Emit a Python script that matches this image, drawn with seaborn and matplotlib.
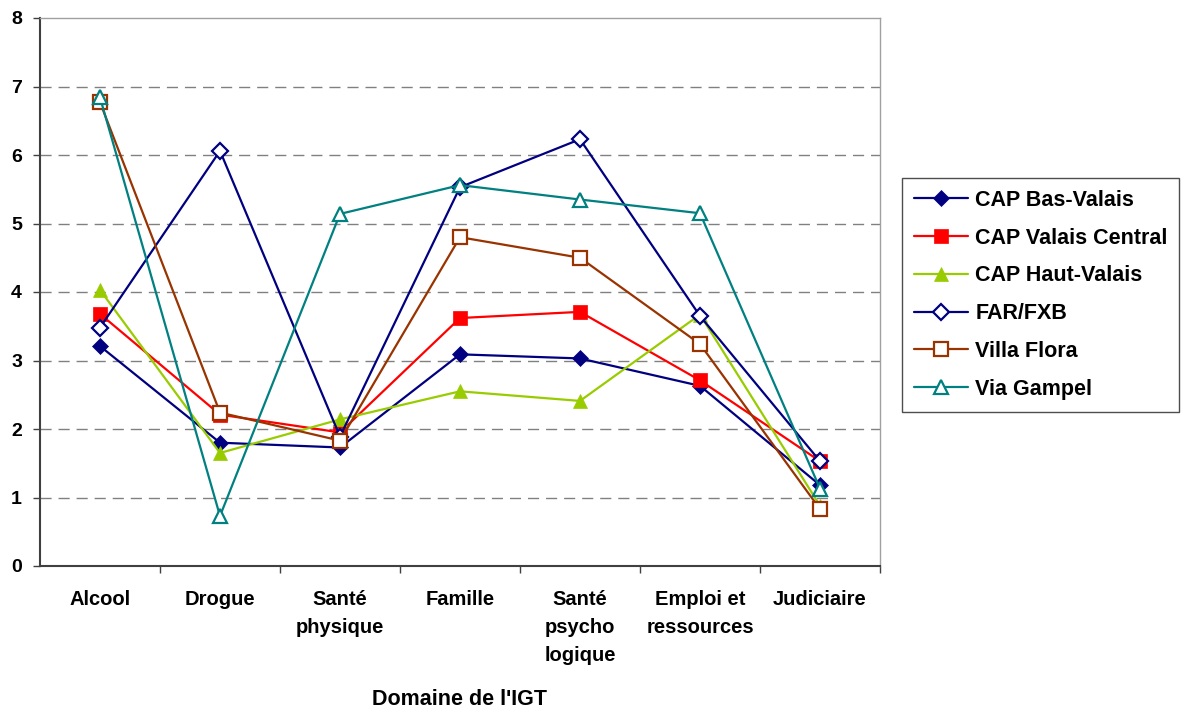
#!/usr/bin/env python
# encoding: utf-8

import pandas as pd
import numpy as np
import matplotlib
matplotlib.use("Agg")
import matplotlib.pyplot as plt
from matplotlib.ticker import FixedLocator
import seaborn as sns


# Domaines de l'IGT (x categories)
domaines = ["Alcool", "Drogue", "Santé\nphysique", "Famille",
            "Santé\npsycho\nlogique", "Emploi et\nressources", "Judiciaire"]

# Values, one list per centre
cap_bas_valais = [3.21, 1.80, 1.73, 3.09, 3.03, 2.63, 1.18]
cap_valais_central = [3.68, 2.21, 1.95, 3.62, 3.71, 2.71, 1.53]
cap_haut_valais = [4.03, 1.65, 2.14, 2.55, 2.41, 3.67, 0.88]
far_fxb = [3.48, 6.06, 1.89, 5.53, 6.23, 3.65, 1.53]
villa_flora = [6.77, 2.24, 1.83, 4.80, 4.50, 3.24, 0.83]
via_gampel = [6.84, 0.73, 5.14, 5.56, 5.35, 5.15, 1.13]

series_names = ["CAP Bas-Valais", "CAP Valais Central", "CAP Haut-Valais",
                "FAR/FXB", "Villa Flora", "Via Gampel"]
series_values = [cap_bas_valais, cap_valais_central, cap_haut_valais,
                 far_fxb, villa_flora, via_gampel]

# (colour, marker, filled?, marker size)
styles = {
    "CAP Bas-Valais": ("#000080", "D", True, 8),
    "CAP Valais Central": ("#FF0000", "s", True, 9.5),
    "CAP Haut-Valais": ("#99CC00", "^", True, 10.5),
    "FAR/FXB": ("#000080", "D", False, 8),
    "Villa Flora": ("#993300", "s", False, 9.5),
    "Via Gampel": ("#008080", "^", False, 10.5),
}


def build_df():
    rows = []
    for name, vals in zip(series_names, series_values):
        for i, v in enumerate(vals):
            rows.append({"centre": name, "pos": i, "score": v})
    return pd.DataFrame(rows)


def main():
    sns.set_style("white")
    plt.rcParams["font.family"] = ["Liberation Sans", "DejaVu Sans"]
    plt.rcParams["font.weight"] = "bold"
    plt.rcParams["text.color"] = "black"
    plt.rcParams["xtick.color"] = "black"
    plt.rcParams["ytick.color"] = "black"
    plt.rcParams["axes.labelcolor"] = "black"

    df = build_df()

    fig = plt.figure(figsize=(11.81, 7.10), dpi=100)
    ax = fig.add_axes([40 / 1181, 1 - 566 / 710, 840 / 1181, 548 / 710])

    for name in series_names:
        col, mk, filled, ms = styles[name]
        sub = df[df["centre"] == name]
        sns.lineplot(data=sub, x="pos", y="score", ax=ax, color=col,
                     marker=mk, markersize=ms, linewidth=1.6,
                     markerfacecolor=col if filled else "white",
                     markeredgecolor=col, markeredgewidth=1.6 if not filled else 0.5,
                     label=name, zorder=3)

    ax.set_xlim(-0.5, len(domaines) - 0.5)
    ax.set_ylim(0, 8)
    ax.set_yticks(range(0, 9))
    ax.set_xticks(range(len(domaines)))
    ax.set_xticklabels(domaines, fontsize=14.5, fontweight="bold", linespacing=1.6,
                       va="top")
    ax.xaxis.set_minor_locator(FixedLocator(np.arange(0.5, len(domaines), 1.0)))
    ax.tick_params(axis="x", which="major", length=0, pad=17)
    ax.tick_params(axis="x", which="minor", length=5, width=1, color="#404040",
                   direction="out", bottom=True)
    ax.tick_params(axis="y", which="major", length=5, width=1, color="#404040",
                   direction="out", left=True, pad=8, labelsize=14)
    for lab in ax.get_yticklabels():
        lab.set_fontweight("bold")

    # dashed horizontal gridlines at 1..7
    for yv in range(1, 8):
        ax.axhline(yv, color="#808080", linewidth=1, linestyle=(0, (8, 5)), zorder=1)

    for side in ["left", "bottom"]:
        ax.spines[side].set_color("#404040")
        ax.spines[side].set_linewidth(1.5)
    for side in ["top", "right"]:
        ax.spines[side].set_color("#A0A0A0")
        ax.spines[side].set_linewidth(1)

    ax.set_xlabel("Domaine de l'IGT", fontsize=15.5, fontweight="bold")
    ax.xaxis.set_label_coords(0.5, -0.225)
    ax.set_ylabel("")

    leg = ax.legend(loc="upper left", bbox_to_anchor=(902 / 1181, 1 - 178 / 710),
                    bbox_transform=fig.transFigure, frameon=True, fancybox=False,
                    edgecolor="#202020", fontsize=15.5, handlelength=2.5,
                    labelspacing=0.78, borderpad=0.55, handletextpad=0.35,
                    borderaxespad=0)
    leg.get_frame().set_linewidth(1)
    for t in leg.get_texts():
        t.set_fontweight("bold")

    fig.savefig("out.png", dpi=100)


if __name__ == "__main__":
    main()
